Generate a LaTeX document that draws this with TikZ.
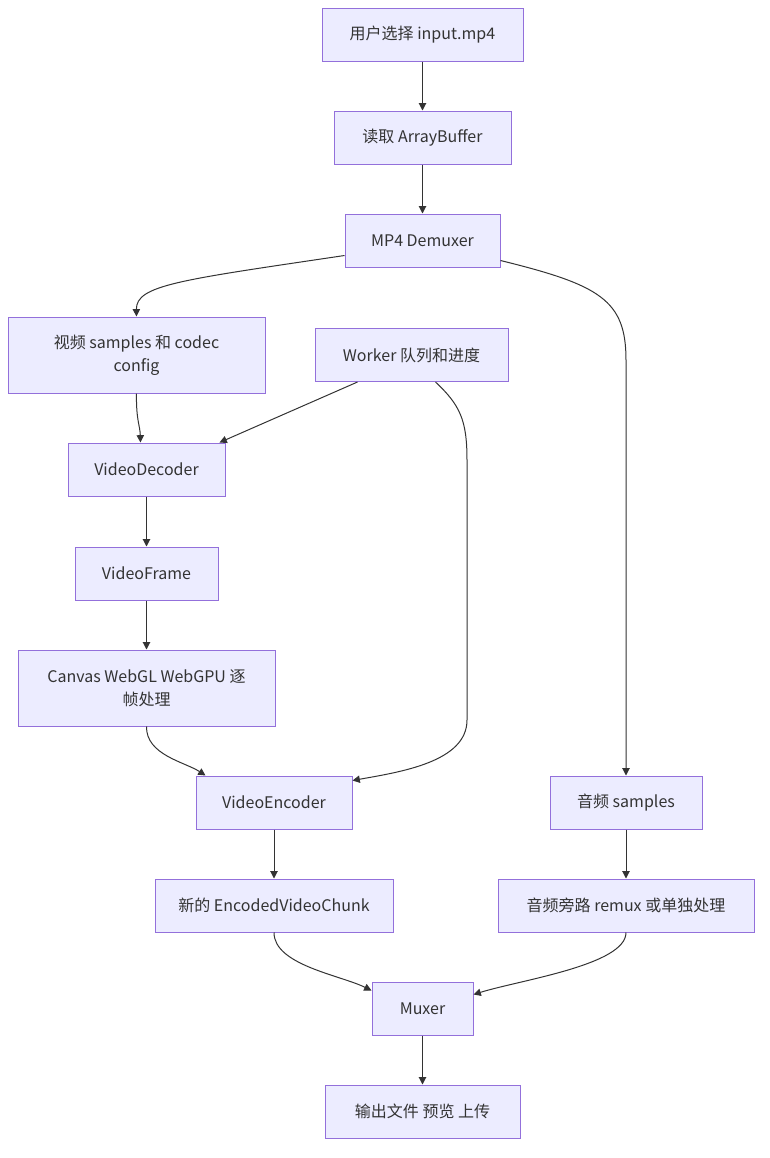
\documentclass[tikz,border=0pt]{standalone}
\usepackage{fontspec}
\setmainfont{Noto Sans CJK SC}
\usetikzlibrary{arrows.meta, positioning, calc}
\usepackage{xcolor}
\definecolor{Ink}{HTML}{333333}
\definecolor{Box}{HTML}{ECECFF}
\definecolor{Edge}{HTML}{9370DB}
\definecolor{Line}{HTML}{333333}

\begin{document}
\begin{tikzpicture}[
            x=0.75pt, y=-0.75pt,
            stage/.style={
                rectangle,
                draw=Edge,
                fill=Box,
                line width=0.75pt,
                minimum height=39.75pt,
                align=center,
                font=\fontsize{12pt}{17pt}\selectfont,
                text=Ink,
                inner sep=0pt
            },
            tallstage/.style={
                stage,
                minimum height=57pt
            },
            arrow/.style={-{Triangle[length=5.5pt, width=5.5pt]}, line width=0.75pt, color=Line}
        ]
            \useasboundingbox (0,0) rectangle (770,1158);

            \node[stage, minimum width=150.75pt] (pick) at (422.5,34.5) {用户选择 input.mp4};
            \node[stage, minimum width=132.75pt] (read) at (422.5,137.5) {读取 ArrayBuffer};
            \node[stage, minimum width=116.25pt] (demux) at (422.5,240.5) {MP4 Demuxer};
            \node[tallstage, minimum width=192.75pt] (vsamples) at (136.5,355) {视频 samples 和 codec\\config};
            \node[stage, minimum width=144.75pt] (worker) at (411.5,355) {Worker 队列和进度};
            \node[stage, minimum width=117.75pt] (decoder) at (146.5,469.5) {VideoDecoder};
            \node[stage, minimum width=107.25pt] (frame) at (146.5,573.5) {VideoFrame};
            \node[tallstage, minimum width=192.75pt] (canvas) at (146.5,688) {Canvas WebGL WebGPU 逐\\帧处理};
            \node[stage, minimum width=117pt] (encoder) at (274,802.5) {VideoEncoder};
            \node[stage, minimum width=114pt] (asamples) at (626,802.5) {音频 samples};
            \node[stage, minimum width=178.5pt] (chunk) at (274,905.5) {新的 EncodedVideoChunk};
            \node[stage, minimum width=192pt] (remux) at (626,905.5) {音频旁路 remux 或单独处理};
            \node[stage, minimum width=75.75pt] (muxer) at (422.5,1008.5) {Muxer};
            \node[stage, minimum width=146.25pt] (output) at (422.5,1111.5) {输出文件 预览 上传};

            % Main video flow
            \draw[arrow] (pick) -- (read);
            \draw[arrow] (read) -- (demux);
            \draw[arrow] ($(demux.south west)+(0,-12)$) .. controls (180,280) and (136,285) .. (vsamples.north);
            \draw[arrow] (vsamples.south) .. controls (136,420) and (140,425) .. ($(decoder.north)+(-6,0)$);
            \draw[arrow] (decoder) -- (frame);
            \draw[arrow] (frame) -- (canvas);
            \draw[arrow] (canvas.south) .. controls (146,755) and (185,762) .. ($(encoder.north west)+(10,0)$);
            \draw[arrow] (encoder) -- (chunk);
            \draw[arrow] (chunk.south) .. controls (274,965) and (340,975) .. ($(muxer.west)+(0,-18)$);
            \draw[arrow] (muxer) -- (output);

            % Worker feeds decoder and encoder
            \draw[arrow] ($(worker.south)+(-54,0)$) -- ($(decoder.north east)+(-6,0)$);
            \draw[arrow] ($(worker.south)+(24,0)$) .. controls (460,405) and (467,420) .. (467,460)
                -- (467,720) .. controls (467,762) and (400,772) .. ($(encoder.north east)+(0,5)$);

            % Audio side path
            \draw[arrow] ($(demux.east)+(0,20)$) .. controls (600,285) and (626,300) .. (626,360) -- (asamples.north);
            \draw[arrow] (asamples) -- (remux);
            \draw[arrow] (remux.south) .. controls (626,965) and (520,980) .. ($(muxer.east)+(0,-14)$);
        \end{tikzpicture}
\end{document}
